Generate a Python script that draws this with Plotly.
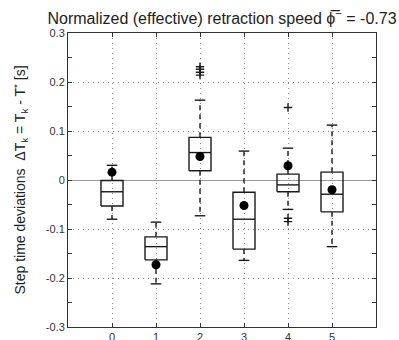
import plotly.graph_objects as go

# ---- data ----
categories = [0, 1, 2, 3, 4, 5]
q1 = [-0.053, -0.163, 0.019, -0.141, -0.024, -0.065]
medians = [-0.024, -0.136, 0.056, -0.080, -0.010, -0.029]
q3 = [-0.001, -0.116, 0.087, -0.025, 0.012, 0.016]
lower_whisker = [-0.080, -0.212, -0.073, -0.164, -0.060, -0.136]
upper_whisker = [0.030, -0.086, 0.163, 0.059, 0.065, 0.112]
means = [0.016, -0.173, 0.048, -0.052, 0.029, -0.020]
outlier_x = [2, 2, 2, 2, 4, 4, 4]
outlier_y = [0.231, 0.226, 0.220, 0.214, 0.148, -0.078, -0.085]
y_ticks = [0.3, 0.2, 0.1, 0, -0.1, -0.2, -0.3]

BOX_HALF = 0.25
CAP_HALF = 0.12
LINE_COLOR = "#1a1a1a"

box_x, box_y = [], []
med_x, med_y = [], []
wh_x, wh_y = [], []
cap_x, cap_y = [], []
for c, a, m, b, lo, hi in zip(categories, q1, medians, q3, lower_whisker, upper_whisker):
    box_x += [c - BOX_HALF, c + BOX_HALF, c + BOX_HALF, c - BOX_HALF, c - BOX_HALF, None]
    box_y += [a, a, b, b, a, None]
    med_x += [c - BOX_HALF, c + BOX_HALF, None]
    med_y += [m, m, None]
    wh_x += [c, c, None, c, c, None]
    wh_y += [b, hi, None, a, lo, None]
    cap_x += [c - CAP_HALF, c + CAP_HALF, None, c - CAP_HALF, c + CAP_HALF, None]
    cap_y += [hi, hi, None, lo, lo, None]

fig = go.Figure()
fig.add_trace(go.Scatter(x=wh_x, y=wh_y, mode="lines",
                         line=dict(color=LINE_COLOR, width=1.4, dash="5px,4px"),
                         hoverinfo="skip", showlegend=False))
fig.add_trace(go.Scatter(x=cap_x, y=cap_y, mode="lines",
                         line=dict(color=LINE_COLOR, width=1.4),
                         hoverinfo="skip", showlegend=False))
fig.add_trace(go.Scatter(x=box_x, y=box_y, mode="lines",
                         line=dict(color=LINE_COLOR, width=1.4),
                         hoverinfo="skip", showlegend=False))
fig.add_trace(go.Scatter(x=med_x, y=med_y, mode="lines",
                         line=dict(color=LINE_COLOR, width=1.4),
                         hoverinfo="skip", showlegend=False))
fig.add_trace(go.Scatter(x=outlier_x, y=outlier_y, mode="markers",
                         marker=dict(symbol="cross-thin", size=6,
                                     line=dict(color=LINE_COLOR, width=1.4)),
                         showlegend=False))
fig.add_trace(go.Scatter(x=categories, y=means, mode="markers",
                         marker=dict(symbol="circle", size=9, color="black"),
                         showlegend=False))

FONT = "Liberation Sans, Arial, sans-serif"
fig.update_layout(
    width=399, height=340,
    margin=dict(l=68, r=23, t=33, b=13),
    paper_bgcolor="white", plot_bgcolor="white",
    font=dict(family=FONT, size=11, color="#333"),
    title=dict(text="Normalized (effective) retraction speed \u03d5\u0305<sup>\u2212</sup> = -0.73",
               x=0.5, xref="paper", xanchor="center",
               y=1 - 18 / 340, yref="container", yanchor="middle",
               font=dict(family=FONT, size=16, color="#222")),
    showlegend=False,
)
fig.update_xaxes(
    range=[-1, 6], tickvals=categories, ticktext=[str(c) for c in categories],
    showgrid=True, gridcolor="#888", griddash="1px,4px", gridwidth=1,
    showline=True, linecolor="#333", linewidth=1, mirror="ticks",
    ticks="inside", ticklen=4, tickcolor="#333",
    zeroline=False, automargin=False,
)
fig.update_yaxes(
    range=[-0.3, 0.3], tickvals=y_ticks, ticktext=[f"{v:g}" for v in y_ticks],
    showgrid=True, gridcolor="#888", griddash="1px,4px", gridwidth=1,
    showline=True, linecolor="#333", linewidth=1, mirror="ticks",
    ticks="inside", ticklen=4, tickcolor="#333",
    minor=dict(dtick=0.05, tick0=0.05, ticks="inside", ticklen=4, tickcolor="#333", showgrid=False),
    zeroline=True, zerolinecolor="#999", zerolinewidth=1,
    title=dict(text="Step time deviations  \u0394T<sub>k</sub> = T<sub>k</sub> - T<sup>*</sup> [s]",
               font=dict(family=FONT, size=14, color="#222"), standoff=16),
    automargin=False,
)

fig.write_html("out.html")
